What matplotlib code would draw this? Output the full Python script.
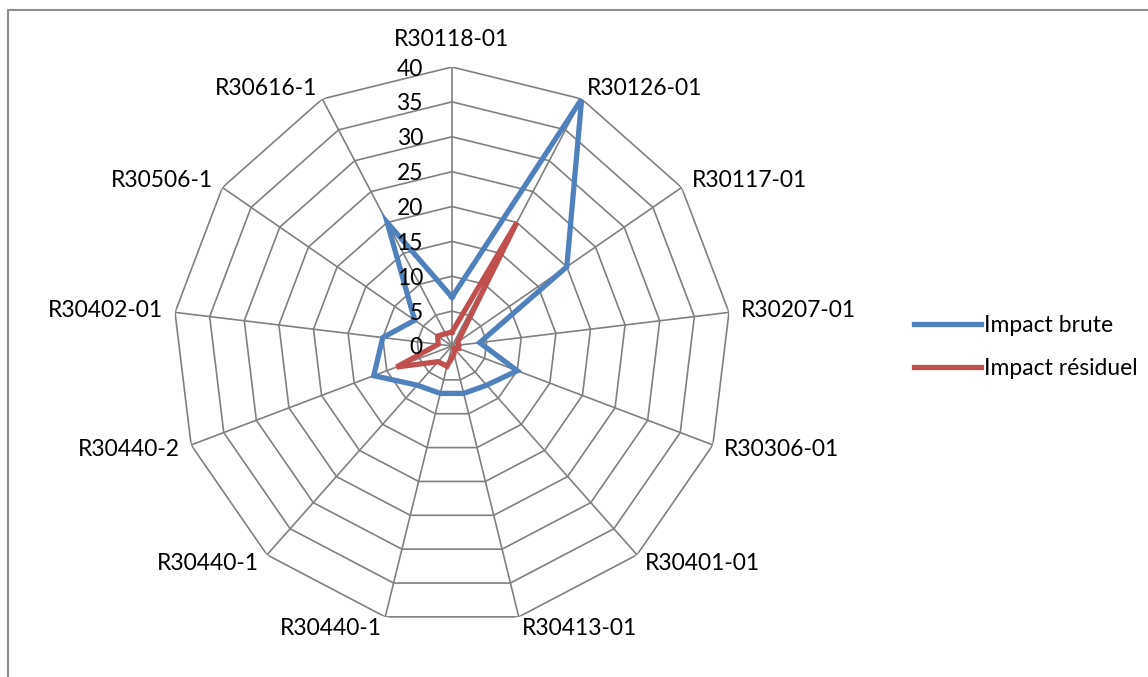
import numpy as np
import matplotlib
matplotlib.use("Agg")
import matplotlib.pyplot as plt
from matplotlib.patches import Rectangle
from matplotlib.transforms import offset_copy

plt.rcParams['font.family'] = ['Lato', 'DejaVu Sans']

# categories (clockwise from the top) and values
categories = ["R30118-01", "R30126-01", "R30117-01", "R30207-01", "R30306-01",
              "R30401-01", "R30413-01", "R30440-1", "R30440-1", "R30440-2",
              "R30402-01", "R30506-1", "R30616-1"]
impact_brute = [7, 40, 20, 4, 10, 7.5, 7, 7, 7.5, 12, 10, 6.5, 20]
impact_residuel = [2, 20, 1, 1, 1, 0.5, 1.2, 3, 3, 8.5, 2, 2.5, 2]
ring_values = [5, 10, 15, 20, 25, 30, 35, 40]
tick_values = [0, 5, 10, 15, 20, 25, 30, 35, 40]

BLUE = "#4F81BD"
RED = "#C0504D"
GRID = "#808080"
FS = 16.5

n = len(categories)
angles = np.arange(n) * 2 * np.pi / n
closed = np.append(angles, angles[0])

fig = plt.figure(figsize=(11.48, 6.77), dpi=100)
ax = fig.add_axes([173 / 1148, 52 / 677, 558 / 1148, 558 / 677], projection="polar")
ax.set_theta_zero_location("N")
ax.set_theta_direction(-1)
ax.set_ylim(0, 40)
ax.grid(False)
ax.spines["polar"].set_visible(False)
ax.set_xticks([])
ax.set_yticks([])
ax.patch.set_alpha(0)

# polygon web
for v in ring_values:
    ax.plot(closed, [v] * (n + 1), color=GRID, lw=1.2, zorder=1)
for a in angles:
    ax.plot([a, a], [0, 40], color=GRID, lw=1.2, zorder=1)

ax.plot(closed, impact_brute + impact_brute[:1], color=BLUE, lw=3.8,
        label="Impact brute", zorder=3, solid_joinstyle="miter")
ax.plot(closed, impact_residuel + impact_residuel[:1], color=RED, lw=3.8,
        label="Impact résiduel", zorder=3, solid_joinstyle="miter")

# radial value labels, left of the top spoke
for v in tick_values:
    tr = offset_copy(ax.transData, fig=fig, x=-29, y=-2, units="dots")
    ax.text(0, v, str(v), transform=tr, ha="right", va="center", fontsize=FS)

# category labels around the web
for a, lab in zip(angles, categories):
    s, c = np.sin(a), np.cos(a)
    d = 28 if c > 0.99 else 12
    tr = offset_copy(ax.transData, fig=fig, x=d * s, y=d * c, units="dots")
    ha = "left" if s > 0.05 else ("right" if s < -0.05 else "center")
    ax.text(a, 40, lab, transform=tr, ha=ha, va="center", fontsize=FS)

fig.legend(loc="center left", bbox_to_anchor=(905 / 1148, 1 - 347 / 677),
           frameon=False, fontsize=FS, handlelength=2.9, handletextpad=0.15,
           labelspacing=1.0, borderaxespad=0)

fig.add_artist(Rectangle((8 / 1148, -0.1), 1.2, 1 - 10 / 677 + 0.1,
                         transform=fig.transFigure, fill=False,
                         edgecolor="#8C8C8C", lw=1.5))

fig.savefig("out.png", dpi=100)
